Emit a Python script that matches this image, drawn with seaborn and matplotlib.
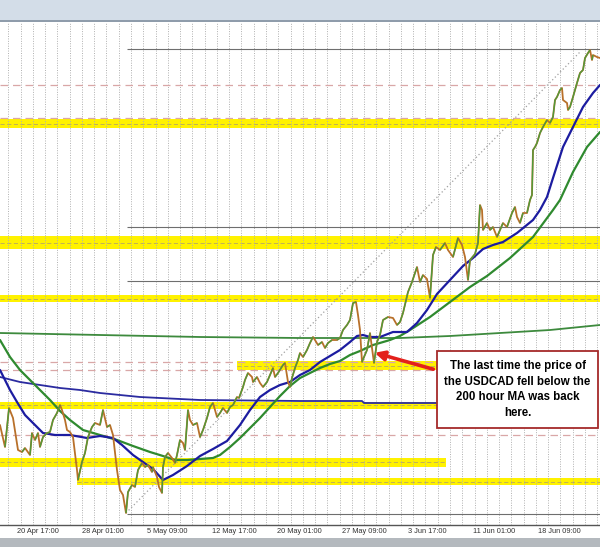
import numpy as np
import matplotlib
matplotlib.use("Agg")
import matplotlib.pyplot as plt
from matplotlib.patches import Rectangle
from matplotlib.collections import LineCollection
import seaborn as sns

# ---- data (hours from chart start, price) ----
price_hours = [0, 10, 18, 26, 36, 44, 50, 60, 64, 70, 76, 80, 86, 94, 100, 106, 114, 120, 124, 130,
               134, 140, 146, 154, 156, 164, 170, 176, 184, 190, 200, 206, 214, 220, 226, 230, 234, 240,
               246, 252, 256, 264, 270, 276, 284, 290, 296, 304, 306, 314, 318, 324, 326, 330, 336, 344,
               350, 354, 360, 366, 370, 376, 380, 386, 394, 400, 406, 414, 420, 426, 434, 440, 446, 454,
               460, 466, 474, 478, 486, 490, 496, 504, 506, 514, 520, 526, 534, 540, 546, 550, 556, 566,
               570, 576, 580, 584, 590, 596, 600, 606, 614, 620, 626, 630, 636, 644, 650, 656, 664, 674,
               680, 686, 694, 700, 706, 712, 716, 720, 724, 728, 734, 740, 744, 748, 754, 760, 766, 776,
               786, 794, 800, 806, 816, 824, 830, 834, 840, 846, 854, 860, 866, 872, 880, 890, 896, 906,
               916, 924, 930, 936, 940, 950, 956, 960, 964, 966, 974, 980, 986, 994, 1000, 1006, 1014,
               1024, 1030, 1034, 1040, 1046, 1054, 1060, 1064, 1066, 1070, 1074, 1080, 1086, 1094, 1100,
               1106, 1110, 1114, 1120, 1124, 1126, 1134, 1136, 1140, 1146, 1154, 1160, 1166, 1170, 1176,
               1180, 1184, 1186, 1194, 1200]
price_values = [1.2575, 1.2553, 1.2592, 1.2582, 1.2550, 1.2548, 1.2552, 1.2545, 1.2567, 1.2560,
                1.2567, 1.2553, 1.2563, 1.2567, 1.2568, 1.2580, 1.2587, 1.2595, 1.2590, 1.2580,
                1.2570, 1.2568, 1.2563, 1.2530, 1.2520, 1.2538, 1.2547, 1.2563, 1.2573, 1.2577,
                1.2575, 1.2590, 1.2573, 1.2575, 1.2565, 1.2547, 1.2530, 1.2510, 1.2505, 1.2487,
                1.2508, 1.2515, 1.2513, 1.2530, 1.2537, 1.2533, 1.2535, 1.2528, 1.2533, 1.2523,
                1.2513, 1.2507, 1.2533, 1.2543, 1.2547, 1.2542, 1.2537, 1.2545, 1.2560, 1.2557,
                1.2550, 1.2590, 1.2580, 1.2575, 1.2577, 1.2563, 1.2570, 1.2582, 1.2593, 1.2597,
                1.2583, 1.2587, 1.2592, 1.2587, 1.2593, 1.2595, 1.2603, 1.2602, 1.2613, 1.2620,
                1.2627, 1.2623, 1.2618, 1.2623, 1.2617, 1.2613, 1.2618, 1.2625, 1.2632, 1.2623,
                1.2627, 1.2635, 1.2637, 1.2618, 1.2613, 1.2622, 1.2632, 1.2640, 1.2647, 1.2643,
                1.2650, 1.2657, 1.2663, 1.2660, 1.2655, 1.2658, 1.2652, 1.2657, 1.2660, 1.2660,
                1.2662, 1.2670, 1.2675, 1.2680, 1.2697, 1.2698, 1.2685, 1.2670, 1.2638, 1.2643,
                1.2650, 1.2667, 1.2652, 1.2637, 1.2658, 1.2665, 1.2680, 1.2683, 1.2682, 1.2675,
                1.2678, 1.2687, 1.2708, 1.2718, 1.2727, 1.2733, 1.2718, 1.2725, 1.2721, 1.2702,
                1.2745, 1.2753, 1.2750, 1.2757, 1.2750, 1.2743, 1.2762, 1.2755, 1.2743, 1.2720,
                1.2740, 1.2746, 1.2757, 1.2795, 1.2790, 1.2770, 1.2777, 1.2770, 1.2773, 1.2763,
                1.2770, 1.2777, 1.2773, 1.2787, 1.2793, 1.2783, 1.2777, 1.2787, 1.2787, 1.2800,
                1.2805, 1.2850, 1.2853, 1.2857, 1.2867, 1.2873, 1.2880, 1.2877, 1.2883, 1.2900,
                1.2903, 1.2910, 1.2912, 1.2900, 1.2897, 1.2890, 1.2893, 1.2903, 1.2917, 1.2927,
                1.2930, 1.2942, 1.2947, 1.2950, 1.2940, 1.2945, 1.2943, 1.2942]

# 100 hour moving average (blue)
ma100_hours = [0, 10, 20, 34, 50, 66, 86, 110, 140, 174, 200, 226, 244, 266, 286, 306, 326, 346, 374,
               400, 426, 454, 480, 500, 520, 540, 560, 580, 600, 620, 640, 660, 680, 700, 714, 726, 740,
               760, 786, 814, 834, 854, 874, 900, 926, 946, 966, 986, 1006, 1034, 1066, 1080, 1094,
               1106, 1126, 1146, 1166, 1186, 1200]
ma100_values = [1.2630, 1.2620, 1.2610, 1.2598, 1.2585, 1.2577, 1.2567, 1.2565, 1.2565, 1.2562,
                1.2564, 1.2562, 1.2555, 1.2545, 1.2538, 1.2531, 1.2520, 1.2525, 1.2534, 1.2544,
                1.2551, 1.2559, 1.2575, 1.2590, 1.2603, 1.2610, 1.2615, 1.2618, 1.2625, 1.2630,
                1.2638, 1.2644, 1.2650, 1.2658, 1.2664, 1.2665, 1.2663, 1.2663, 1.2668, 1.2668,
                1.2677, 1.2690, 1.2706, 1.2720, 1.2734, 1.2742, 1.2751, 1.2755, 1.2758, 1.2767,
                1.2780, 1.2790, 1.2803, 1.2822, 1.2853, 1.2873, 1.2893, 1.2907, 1.2915]

# 200 hour moving average (green)
ma200_hours = [0, 20, 40, 60, 80, 100, 120, 140, 166, 200, 234, 266, 300, 326, 350, 374, 400, 426,
               440, 460, 480, 500, 520, 540, 560, 580, 600, 620, 640, 660, 680, 700, 720, 746, 780,
               800, 820, 860, 900, 940, 974, 1020, 1066, 1106, 1120, 1146, 1174, 1200]
ma200_values = [1.2660, 1.2643, 1.2630, 1.2620, 1.2610, 1.2600, 1.2589, 1.2580, 1.2570, 1.2565,
                1.2560, 1.2554, 1.2548, 1.2544, 1.2540, 1.2540, 1.2541, 1.2542, 1.2545, 1.2553,
                1.2562, 1.2572, 1.2582, 1.2593, 1.2604, 1.2614, 1.2622, 1.2627, 1.2632, 1.2636,
                1.2639, 1.2645, 1.2649, 1.2655, 1.2660, 1.2664, 1.2670, 1.2683, 1.2698, 1.2713,
                1.2724, 1.2742, 1.2763, 1.2790, 1.2800, 1.2828, 1.2853, 1.2868]

# slower (4 hour) moving averages
ma4h_blue_hours = [0, 40, 80, 120, 160, 200, 240, 280, 320, 360, 400, 600, 724, 728, 872]
ma4h_blue_values = [1.2623, 1.2618, 1.2615, 1.2612, 1.2610, 1.2607, 1.2605, 1.2603, 1.2602,
                    1.2601, 1.2600, 1.2599, 1.2599, 1.2597, 1.2597]
ma4h_green_hours = [0, 200, 400, 600, 800, 900, 1000, 1100, 1200]
ma4h_green_values = [1.2667, 1.2665, 1.2663, 1.2662, 1.2662, 1.2664, 1.2667, 1.2670, 1.2675]

# drawn levels
solid_levels = [1.2951, 1.2773, 1.2719, 1.2486]
solid_start = 254
dashed_levels = [1.2915, 1.2882, 1.2638, 1.2630, 1.2565]
zone_low = [1.2872, 1.2751, 1.2698, 1.2630, 1.2591, 1.2533, 1.2515]
zone_high = [1.2881, 1.2764, 1.2705, 1.2639, 1.2598, 1.2542, 1.2522]
zone_start = [0, 0, 0, 474, 0, 0, 154]
zone_end = [1200, 1200, 1200, 874, 874, 892, 1200]
trend_hours = [252, 1160]
trend_values = [1.2487, 1.2948]

tick_hours = [75, 205, 334, 468, 598, 728, 854, 988, 1119]
tick_labels = ["20 Apr 17:00", "28 Apr 01:00", "5 May 09:00", "12 May 17:00", "20 May 01:00",
               "27 May 09:00", "3 Jun 17:00", "11 Jun 01:00", "18 Jun 09:00"]

note = "The last time the price of\nthe USDCAD fell below the\n200 hour MA was back\nhere."

# ---- figure ----
sns.set_theme(style="white")
plt.rcParams['font.family'] = ['Liberation Sans', 'DejaVu Sans']

fig = plt.figure(figsize=(6, 5.47), dpi=100)
fig.patch.set_facecolor("white")
fig.patches.append(Rectangle((0, 525 / 547), 1, 22 / 547, transform=fig.transFigure,
                             facecolor="#d3dde8", edgecolor="none"))
fig.patches.append(Rectangle((0, 525 / 547), 1, 1.5 / 547, transform=fig.transFigure,
                             facecolor="#8f9cab", edgecolor="none"))
fig.patches.append(Rectangle((0, 0), 1, 9 / 547, transform=fig.transFigure,
                             facecolor="#b4b9be", edgecolor="none"))

ax = fig.add_axes([0, 22 / 547, 1, 503 / 547])
ax.set_facecolor("white")

# yellow zones
for lo, hi, x0, x1 in zip(zone_low, zone_high, zone_start, zone_end):
    ax.fill_between([x0, x1], lo, hi, color="#fff200", lw=0, zorder=1)
    ax.hlines((lo + hi) / 2, x0, x1, colors="#b8a860", linestyles=(0, (5, 3)), lw=0.6, zorder=2)

# vertical dotted grid
for gx in np.arange(16.6, 1200, 24.54):
    ax.axvline(gx, color="#b0b0b0", linestyle=(0, (1, 1.5)), lw=0.7, zorder=2)

ax.hlines(dashed_levels, 0, 1200, colors="#d9a7a7", linestyles=(0, (6, 4)), lw=0.9, zorder=3)
ax.hlines(solid_levels, solid_start, 1200, colors="#6e6e6e", lw=0.8, zorder=3)
ax.plot(trend_hours, trend_values, color="#a0a0a0", linestyle=(0, (1, 2)), lw=0.9, zorder=3)

# moving averages
sns.lineplot(x=ma4h_green_hours, y=ma4h_green_values, ax=ax, color="#3d8a3d", lw=1.3,
             estimator=None, sort=False, zorder=4)
sns.lineplot(x=ma4h_blue_hours, y=ma4h_blue_values, ax=ax, color="#2b2ba0", lw=1.3,
             estimator=None, sort=False, zorder=4)
sns.lineplot(x=ma200_hours, y=ma200_values, ax=ax, color="#2f8a2f", lw=1.6,
             estimator=None, sort=False, zorder=5)
sns.lineplot(x=ma100_hours, y=ma100_values, ax=ax, color="#1c1ca0", lw=1.6,
             estimator=None, sort=False, zorder=5)

# price
sns.lineplot(x=price_hours, y=price_values, ax=ax, color="#b8702a", lw=1.3,
             estimator=None, sort=False, zorder=6)
pts = np.column_stack([price_hours, price_values])
segs = [pts[i:i + 2] for i in range(len(pts) - 1) if price_values[i + 1] > price_values[i]]
ax.add_collection(LineCollection(segs, colors="#4f9a3a", lw=1.0, zorder=7))

# note box + arrow
ax.add_patch(Rectangle((874, 1.2572), 322, 0.0077, facecolor="white", edgecolor="#a52a2a",
                       lw=1.3, zorder=10))
ax.text(1035, 1.26105, note, ha="center", va="center", fontsize=8.3, fontweight="bold",
        linespacing=1.38, color="black", zorder=11)
ax.annotate("", xy=(744, 1.2648), xytext=(872, 1.2630),
            arrowprops=dict(arrowstyle="-|>", color="#e3201b", lw=2.6, mutation_scale=14),
            zorder=12)

ax.set_xlim(0, 1200)
ax.set_ylim(1.2475, 1.2978)
ax.set_xticks(tick_hours, tick_labels)
ax.set_yticks([])
ax.tick_params(axis="x", length=0, pad=2, labelsize=5.3, labelcolor="#333333")
ax.set_xlabel("")
ax.set_ylabel("")
for side in ["top", "left", "right"]:
    ax.spines[side].set_visible(False)
ax.spines["bottom"].set_color("#555555")
ax.spines["bottom"].set_linewidth(1.0)

fig.savefig("out.png", dpi=100)
plt.close(fig)
